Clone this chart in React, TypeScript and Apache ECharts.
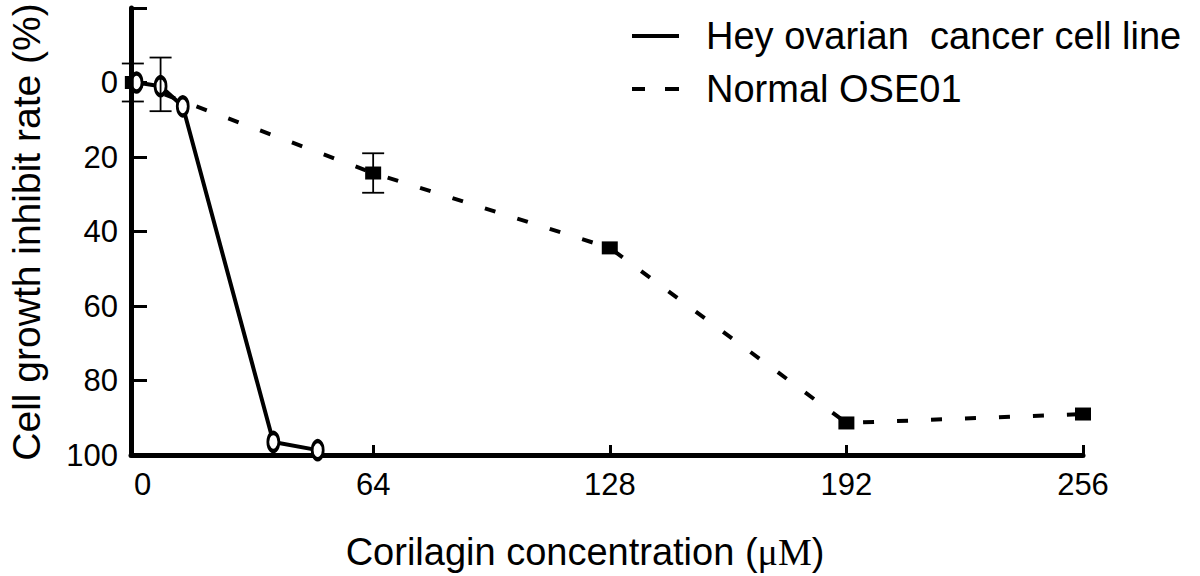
import React, { useEffect, useRef } from "react";
import * as echarts from "echarts";

// Hey ovarian cancer cell line (solid line, hollow ellipse markers)
const heyX = [0, 6.5, 12.5, 37, 49];
const heyY = [0, 1, 6.4, 96.5, 98.7];
// Normal OSE01 (dashed line, filled square markers)
const normalX = [-1, 64, 128, 192, 256];
const normalY = [0, 24.3, 44.4, 91.4, 89];
// error bars: x, mean, half-width
const errX = [-1, 6.5, 64];
const errMean = [0, 0.5, 24.3];
const errHalf = [5.1, 7.2, 5.3];

const xTicks = [64, 128, 192, 256];
const xLabels = [0, 64, 128, 192, 256];
const legendNames = ["Hey ovarian  cancer cell line", "Normal OSE01"];
const xTitle = "Corilagin concentration";
const yTitle = "Cell growth inhibit rate (%)";

const FONT = "Liberation Sans, Arial, sans-serif";

export default function App() {
  const ref = useRef<HTMLDivElement>(null);
  useEffect(() => {
    document.body.style.margin = "0";
    const chart = echarts.init(ref.current!, null, { renderer: "svg" });
    const hey = heyX.map((x, i) => [x, heyY[i]]);
    const normal = normalX.map((x, i) => [x, normalY[i]]);
    const errs = errX.map((x, i) => [x, errMean[i] - errHalf[i], errMean[i] + errHalf[i]]);
    chart.setOption({
      animation: false,
      backgroundColor: "#fff",
      textStyle: { fontFamily: FONT, color: "#000" },
      grid: { left: 131, right: 117, top: 8, bottom: 121, containLabel: false },
      xAxis: {
        type: "value",
        min: -1.5,
        max: 256,
        splitLine: { show: false },
        axisLine: { onZero: false, lineStyle: { color: "#000", width: 5 } },
        axisTick: { show: true, inside: true, length: 10, customValues: xTicks, lineStyle: { color: "#000", width: 3 } },
        axisLabel: {
          customValues: xLabels,
          margin: 14,
          fontSize: 31,
          color: "#000",
          fontFamily: FONT,
          formatter: (v: number) => (v === 0 ? "{z|0}" : String(v)),
          rich: { z: { fontSize: 31, fontFamily: FONT, color: "#000", padding: [0, 0, 0, 12] } },
        },
      },
      yAxis: {
        type: "value",
        inverse: true,
        min: -20,
        max: 100,
        interval: 20,
        splitLine: { show: false },
        axisLine: { onZero: false, lineStyle: { color: "#000", width: 5 } },
        axisTick: { show: true, inside: true, length: 16, lineStyle: { color: "#000", width: 3 } },
        axisLabel: {
          margin: 13,
          fontSize: 31,
          color: "#000",
          fontFamily: FONT,
          formatter: (v: number) => (v < 0 ? "" : String(v)),
        },
      },
      graphic: [
        { type: "line", shape: { x1: 632, y1: 36, x2: 679, y2: 36 }, style: { stroke: "#000", lineWidth: 4 } },
        { type: "text", x: 706, y: 36, style: { text: legendNames[0], fontSize: 38, fontFamily: FONT, fill: "#000", textVerticalAlign: "middle", textAlign: "left" } },
        { type: "line", shape: { x1: 632, y1: 89, x2: 645, y2: 89 }, style: { stroke: "#000", lineWidth: 4 } },
        { type: "line", shape: { x1: 665, y1: 89, x2: 679, y2: 89 }, style: { stroke: "#000", lineWidth: 4 } },
        { type: "text", x: 706, y: 89, style: { text: legendNames[1], fontSize: 38, fontFamily: FONT, fill: "#000", textVerticalAlign: "middle", textAlign: "left" } },
        {
          type: "text",
          x: 585,
          y: 552,
          style: {
            text: xTitle + " ({s|μM})",
            fontSize: 38,
            fontFamily: FONT,
            fill: "#000",
            textAlign: "center",
            textVerticalAlign: "middle",
            rich: { s: { fontSize: 38, fontFamily: "Liberation Serif, Times New Roman, serif", fill: "#000" } },
          },
        },
        {
          type: "text",
          x: 26,
          y: 232,
          rotation: Math.PI / 2,
          style: { text: yTitle, fontSize: 39, fontFamily: FONT, fill: "#000", textAlign: "center", textVerticalAlign: "middle" },
        },
      ],
      series: [
        {
          name: legendNames[1],
          type: "line",
          data: normal,
          symbol: "rect",
          symbolSize: [16, 13],
          showAllSymbol: true,
          itemStyle: { color: "#000" },
          lineStyle: { color: "#000", width: 4, type: [11, 23] },
          z: 2,
        },
        {
          name: legendNames[0],
          type: "line",
          data: hey,
          symbol: "circle",
          symbolSize: [11, 18],
          showAllSymbol: true,
          itemStyle: { color: "#fff", borderColor: "#000", borderWidth: 3.5 },
          lineStyle: { color: "#000", width: 4 },
          z: 3,
        },
        {
          type: "custom",
          data: errs,
          z: 4,
          renderItem: (params: any, api: any) => {
            const x = api.value(0);
            const lo = api.coord([x, api.value(1)]);
            const hi = api.coord([x, api.value(2)]);
            const w = 11;
            const st = { stroke: "#000", lineWidth: 1.8 };
            return {
              type: "group",
              children: [
                { type: "line", shape: { x1: lo[0], y1: lo[1], x2: hi[0], y2: hi[1] }, style: st },
                { type: "line", shape: { x1: lo[0] - w, y1: lo[1], x2: lo[0] + w, y2: lo[1] }, style: st },
                { type: "line", shape: { x1: hi[0] - w, y1: hi[1], x2: hi[0] + w, y2: hi[1] }, style: st },
              ],
            };
          },
        },
      ],
    });
    return () => chart.dispose();
  }, []);
  return <div ref={ref} style={{ width: 1200, height: 576 }} />;
}
